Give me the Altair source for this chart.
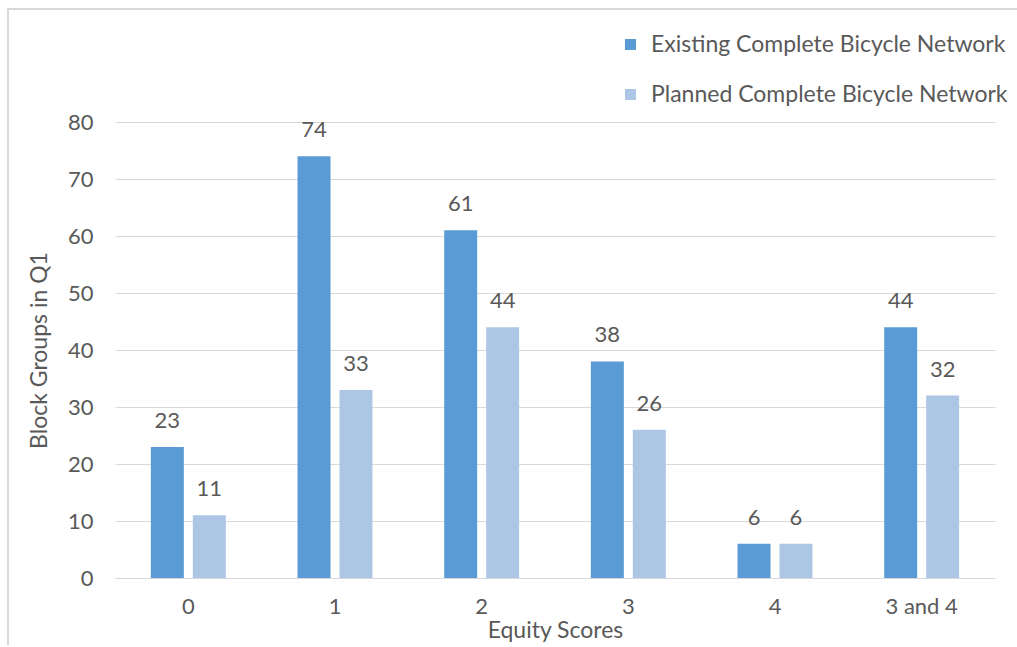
import altair as alt
import pandas as pd

categories = ["0", "1", "2", "3", "4", "3 and 4"]
series_names = ["Existing Complete Bicycle Network", "Planned Complete Bicycle Network"]
existing = [23, 74, 61, 38, 6, 44]
planned = [11, 33, 44, 26, 6, 32]
colors = ["#5B9BD5", "#ADC6E6"]
y_ticks = [0, 10, 20, 30, 40, 50, 60, 70, 80]

rows = []
for c, e, p in zip(categories, existing, planned):
    rows.append({"cat": c, "series": series_names[0], "value": e})
    rows.append({"cat": c, "series": series_names[1], "value": p})
df = pd.DataFrame(rows)

FONT = "Lato"
TXT = "#595959"
GRID = "#D9D9D9"

x_enc = alt.X(
    "cat:N", sort=categories,
    scale=alt.Scale(paddingInner=0.489, paddingOuter=0.2445),
    axis=alt.Axis(title="Equity Scores", labelAngle=0, ticks=False, domainColor=GRID,
                  domainWidth=1, labelPadding=18, titlePadding=2, labelFontSize=22,
                  titleFontSize=23, labelColor=TXT, titleColor=TXT, titleFontWeight="normal",
                  labelFont=FONT, titleFont=FONT),
)
y_enc = alt.Y(
    "value:Q", scale=alt.Scale(domain=[0, 80], nice=False),
    axis=alt.Axis(title="Block Groups in Q1", values=y_ticks, ticks=False, domain=False,
                  gridColor=GRID, gridWidth=1, labelPadding=22, titlePadding=16,
                  labelFontSize=22, titleFontSize=23, labelColor=TXT, titleColor=TXT,
                  titleFontWeight="normal", labelFont=FONT, titleFont=FONT),
)
xoff = alt.XOffset("series:N", sort=series_names,
                   scale=alt.Scale(paddingInner=0.214, paddingOuter=0))

bars = alt.Chart(df).mark_bar().encode(
    x=x_enc, y=y_enc, xOffset=xoff,
    color=alt.Color("series:N", sort=series_names,
                    scale=alt.Scale(domain=series_names, range=colors),
                    legend=alt.Legend(title=None, orient="none", legendX=504, legendY=-89,
                                      symbolType="square", symbolSize=120, symbolStrokeWidth=0,
                                      labelFontSize=23, labelFont=FONT, labelColor=TXT,
                                      rowPadding=26, labelOffset=9, labelLimit=500)),
)
labels = alt.Chart(df).mark_text(baseline="alphabetic", dy=-19, fontSize=22, font=FONT,
                                 color=TXT).encode(
    x=alt.X("cat:N", sort=categories), y="value:Q", xOffset=xoff, text="value:Q")

frame_df = pd.DataFrame({"k": [0]})
top_border = alt.Chart(frame_df).mark_rule(color=GRID, strokeWidth=2).encode(
    x=alt.value(-108), x2=alt.value(902), y=alt.value(-113))
left_border = alt.Chart(frame_df).mark_rule(color=GRID, strokeWidth=2).encode(
    x=alt.value(-107), y=alt.value(-114), y2=alt.value(523))

chart = alt.layer(bars, labels, top_border, left_border).properties(
    width=880, height=456,
    padding={"left": 115, "top": 122, "right": 22, "bottom": 69},
    autosize=alt.AutoSizeParams(type="none"),
    background="white",
).configure_view(stroke=None)

chart.save("out.html", embed_options={"renderer": "svg", "actions": False})
